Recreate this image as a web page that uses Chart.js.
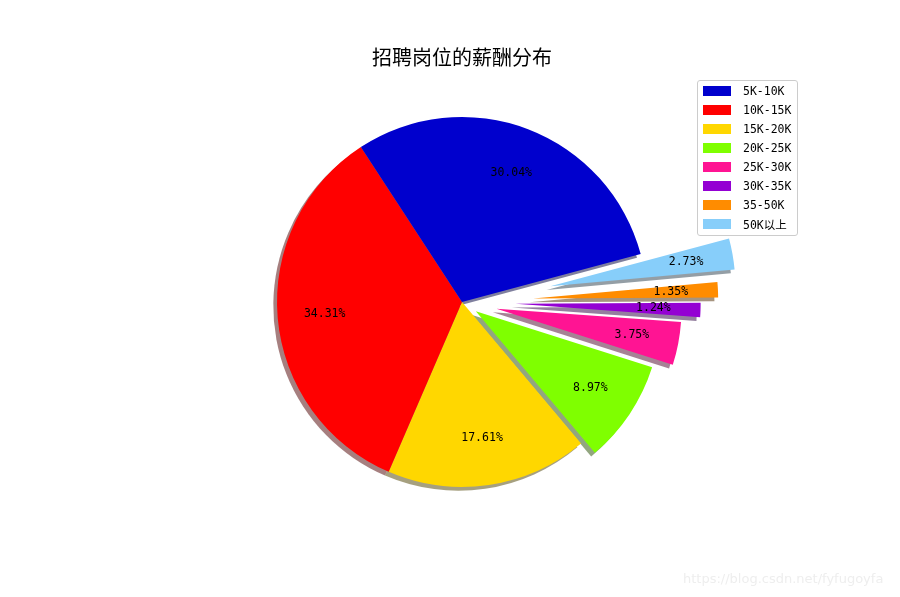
<!DOCTYPE html>
<html><head><meta charset="utf-8">
<script src="https://cdn.jsdelivr.net/npm/chart.js@4/dist/chart.umd.min.js"></script>
<style>
html,body{margin:0;padding:0;background:#fff;}
#wrap{position:relative;width:900px;height:597px;overflow:hidden;}
canvas{position:absolute;left:0;top:0;}
#legend{position:absolute;left:697px;top:80px;width:101px;height:156px;border:1px solid #cccccc;border-radius:3px;background:rgba(255,255,255,0.8);box-sizing:border-box;font-family:"DejaVu Sans Mono","Noto Sans CJK SC",monospace;font-size:11.5px;color:#000;}
.row{position:absolute;left:5px;height:19px;display:flex;align-items:center;white-space:nowrap;}
.sw{width:28px;height:10px;margin-right:12px;}
#wm{position:absolute;left:683px;top:571px;font:13px "DejaVu Sans",sans-serif;color:#eeeeee;white-space:nowrap;}
</style></head>
<body><div id="wrap"><canvas id="c" width="900" height="597"></canvas><div id="legend"></div><div id="wm">https://blog.csdn.net/fyfugoyfa</div></div>
<script>
const title = '招聘岗位的薪酬分布';
const categories = ['5K-10K','10K-15K','15K-20K','20K-25K','25K-30K','30K-35K','35-50K','50K以上'];
const percentages = [30.04, 34.31, 17.61, 8.97, 3.75, 1.24, 1.35, 2.73];
const colors = ['#0000CD','#FF0000','#FFD700','#7FFF00','#FF1493','#9400D3','#FF8C00','#87CEFA'];
const explode = [0, 0, 0, 0.09, 0.19, 0.29, 0.385, 0.485];

// legend (HTML)
const lg = document.getElementById('legend');
categories.forEach((c,i)=>{
  const r = document.createElement('div');
  r.className='row'; r.style.top = (i*19)+'px';
  r.innerHTML = '<span class="sw" style="background:'+colors[i]+'"></span><span>'+c+'</span>';
  lg.appendChild(r);
});

// matplotlib draws counter-clockwise; Chart.js clockwise -> reverse order
const labelsR = categories.slice().reverse();
const dataR = percentages.slice().reverse();
const colorsR = colors.slice().reverse();
const explodeR = explode.slice().reverse();

function hexRgb(h){return [parseInt(h.substr(1,2),16),parseInt(h.substr(3,2),16),parseInt(h.substr(5,2),16)];}

const SH_X = -3.7, SH_Y = 3.7, PCT = 0.745;
const pieFx = {
  id:'pieFx',
  afterDatasetUpdate(chart,args){
    args.meta.data.forEach((el,i)=>{
      const mid=(el.startAngle+el.endAngle)/2;
      const d=explodeR[i]*el.outerRadius;
      el.x += Math.cos(mid)*d;
      el.y += Math.sin(mid)*d;
    });
  },
  beforeDatasetsDraw(chart){
    const ctx=chart.ctx;
    chart.getDatasetMeta(0).data.forEach((el,i)=>{
      const [r,g,b]=hexRgb(colorsR[i]);
      ctx.save();
      ctx.fillStyle='rgba('+(0.3*r)+','+(0.3*g)+','+(0.3*b)+',0.5)';
      ctx.beginPath();
      ctx.moveTo(el.x+SH_X, el.y+SH_Y);
      ctx.arc(el.x+SH_X, el.y+SH_Y, el.outerRadius, el.startAngle, el.endAngle);
      ctx.closePath();
      ctx.fill();
      ctx.restore();
    });
  },
  afterDatasetsDraw(chart){
    const ctx=chart.ctx;
    ctx.save();
    ctx.font='11.5px "DejaVu Sans Mono", monospace';
    ctx.fillStyle='#000';
    ctx.textAlign='center'; ctx.textBaseline='middle';
    chart.getDatasetMeta(0).data.forEach((el,i)=>{
      const mid=(el.startAngle+el.endAngle)/2;
      const x=el.x+Math.cos(mid)*el.outerRadius*PCT;
      const y=el.y+Math.sin(mid)*el.outerRadius*PCT;
      ctx.fillText(dataR[i].toFixed(2)+'%', x, y);
    });
    ctx.restore();
  }
};

new Chart(document.getElementById('c'),{
  type:'pie',
  data:{labels:labelsR,datasets:[{data:dataR,backgroundColor:colorsR,borderWidth:0,radius:185}]},
  options:{
    responsive:false, animation:false, rotation:75,
    layout:{padding:{left:24,right:0,top:0,bottom:72}},
    plugins:{
      legend:{display:false}, tooltip:{enabled:false},
      title:{display:true,text:title,color:'#000',font:{family:'"Noto Sans CJK SC"',size:20,weight:'normal'},padding:{top:45,bottom:10}}
    }
  },
  plugins:[pieFx]
});
</script>
</body></html>
